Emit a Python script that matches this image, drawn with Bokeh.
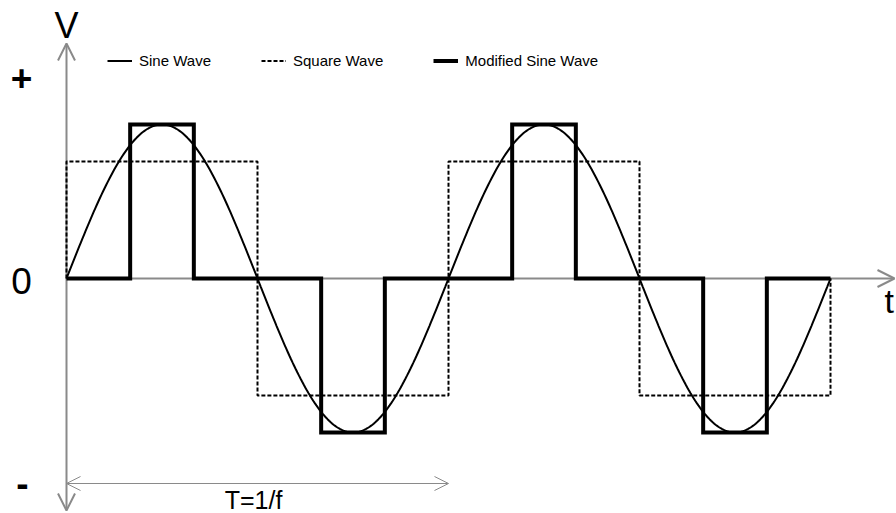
import numpy as np
from bokeh.plotting import figure
from bokeh.models import Arrow, OpenHead, Label, Legend, LegendItem, Range1d
from bokeh.embed import file_html
from bokeh.resources import INLINE

# ---- data (x in units of the period T, y in units of the sine amplitude) ----
period = 1.0
sine_amplitude = 1.0
square_amplitude = 0.76
modified_amplitude = 1.0
cycles = 2

square_x = [0, 0, 0.5, 0.5, 1, 1, 1.5, 1.5, 2, 2]
square_level = [0, 1, 1, -1, -1, 1, 1, -1, -1, 0]

modified_x = [0, 1/6, 1/6, 1/3, 1/3, 2/3, 2/3, 5/6, 5/6,
              7/6, 7/6, 4/3, 4/3, 5/3, 5/3, 11/6, 11/6, 2]
modified_level = [0, 0, 1, 1, 0, 0, -1, -1, 0,
                  0, 1, 1, 0, 0, -1, -1, 0, 0]

legend_labels = ["Sine Wave", "Square Wave", "Modified Sine Wave"]

sine_x = np.linspace(0, cycles * period, 481)
sine_y = sine_amplitude * np.sin(2 * np.pi * sine_x / period)
square_y = [square_amplitude * v for v in square_level]
modified_y = [modified_amplitude * v for v in modified_level]

# ---- figure ----
W, H = 896, 513
x0_px, T_px = 66.0, 382.0      # canvas px of t=0, px per period
y0_px, A_px = 278.0, 154.0     # canvas px (from top) of V=0, px per amplitude

p = figure(width=W, height=H, output_backend="svg", toolbar_location=None,
           x_axis_location=None, y_axis_location=None,
           x_range=Range1d(-x0_px / T_px, (W - x0_px) / T_px),
           y_range=Range1d((y0_px - H) / A_px, y0_px / A_px))
p.min_border = 0
p.outline_line_color = None
p.xgrid.visible = False
p.ygrid.visible = False
p.background_fill_color = "white"
p.border_fill_color = "white"

axis_gray = "#8a8a8a"

def px_x(x):
    return (x - x0_px) / T_px

def px_y(y):
    return (y0_px - y) / A_px

# axes (underlay)
h_axis = Arrow(x_start=0, y_start=0, x_end=px_x(894), y_end=0,
               line_color=axis_gray, line_width=2,
               end=OpenHead(size=17, line_color=axis_gray, line_width=2),
               level="underlay")
v_axis_up = Arrow(x_start=0, y_start=0, x_end=0, y_end=px_y(43),
                  line_color=axis_gray, line_width=2,
                  end=OpenHead(size=17, line_color=axis_gray, line_width=2),
                  level="underlay")
v_axis_down = Arrow(x_start=0, y_start=0, x_end=0, y_end=px_y(510),
                    line_color=axis_gray, line_width=2,
                    end=OpenHead(size=17, line_color=axis_gray, line_width=2),
                    level="underlay")
period_arrow = Arrow(x_start=0, y_start=px_y(483), x_end=period, y_end=px_y(483),
                     line_color=axis_gray, line_width=1,
                     start=OpenHead(size=14, line_color=axis_gray, line_width=1),
                     end=OpenHead(size=14, line_color=axis_gray, line_width=1))
for a in (h_axis, v_axis_up, v_axis_down, period_arrow):
    p.add_layout(a)

# waves
r_sine = p.line(sine_x, sine_y, line_color="black", line_width=2)
r_square = p.line(square_x, square_y, line_color="black", line_width=2,
                  line_dash="4 2")
r_mod = p.line(modified_x, modified_y, line_color="black", line_width=4,
               line_join="miter")

legend = Legend(items=[LegendItem(label=legend_labels[0], renderers=[r_sine]),
                       LegendItem(label=legend_labels[1], renderers=[r_square]),
                       LegendItem(label=legend_labels[2], renderers=[r_mod])],
                orientation="horizontal", location=(107, 444),
                glyph_width=25, glyph_height=15, label_height=15,
                label_standoff=7, spacing=50, padding=0, margin=0,
                border_line_color=None, background_fill_alpha=0,
                label_text_font="Liberation Sans", label_text_font_size="15px",
                label_text_color="black")
p.add_layout(legend)

font = "Liberation Sans"
def lab(text, x, y, size, align="center", style="normal"):
    # y is the intended baseline; the renderer draws ~0.34 em lower
    yy = y - 0.34 * size
    p.add_layout(Label(x=px_x(x), y=px_y(yy), text=text,
                       text_font=font, text_font_size=f"{size}px",
                       text_font_style=style, text_color="black",
                       text_align=align, text_baseline="alphabetic"))

lab("V", 66, 37, 36)
lab("+", 21, 90, 37, style="bold")
lab("0", 21, 293, 37)
lab("-", 22, 495, 37, style="bold")
lab("T=1/f", 253, 508, 25)
lab("t", 884, 312, 34, align="left")

open("out.html", "w").write(file_html(p, INLINE))
